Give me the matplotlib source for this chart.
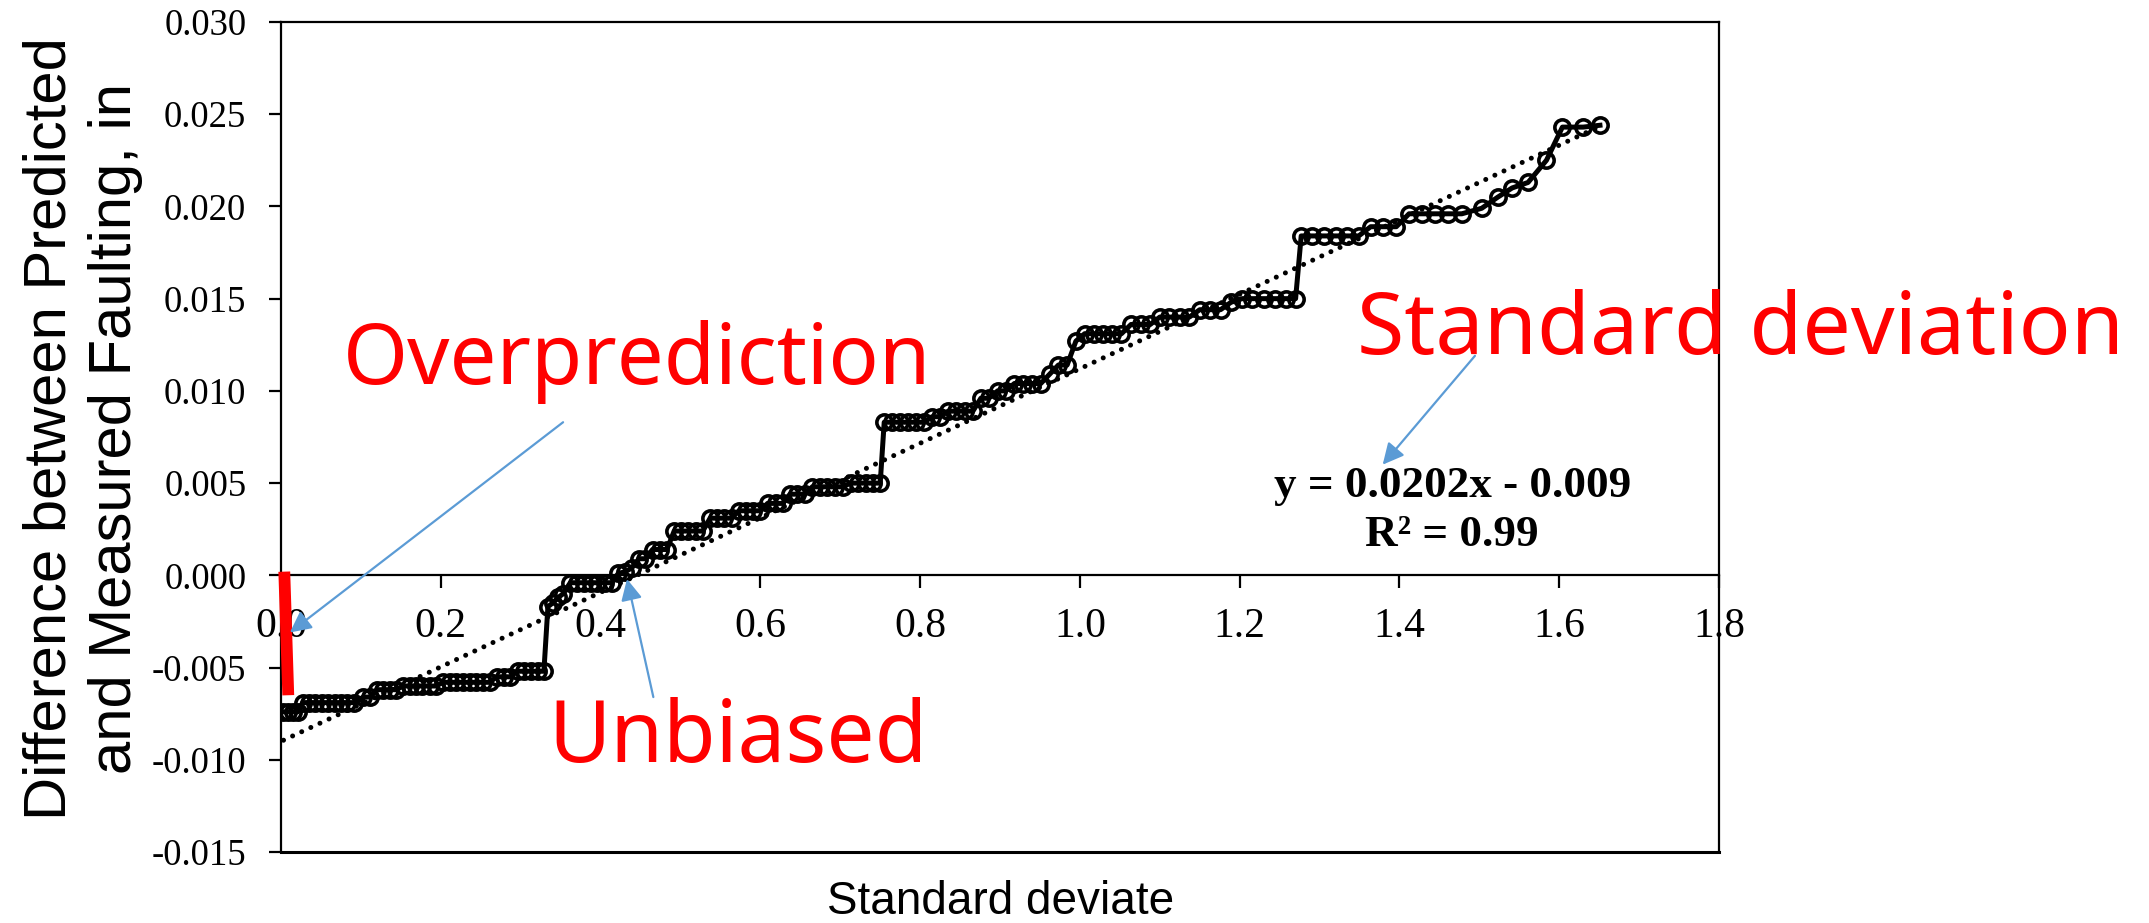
import numpy as np
import matplotlib
matplotlib.use("Agg")
from matplotlib import pyplot as plt

# standard deviate (x) vs difference between predicted and measured faulting (y)
x_dev = [0.003, 0.009, 0.015, 0.021,
         0.027, 0.035, 0.043, 0.051, 0.059, 0.067, 0.075, 0.083, 0.091,
         0.103, 0.111,
         0.120, 0.128, 0.136, 0.144,
         0.153, 0.161, 0.169, 0.177, 0.186, 0.194,
         0.203, 0.211, 0.219, 0.228, 0.236, 0.244, 0.253, 0.261,
         0.270, 0.279, 0.287,
         0.296, 0.304, 0.313, 0.321, 0.329,
         0.334, 0.340, 0.347, 0.353,
         0.362, 0.370, 0.379, 0.388, 0.396, 0.405, 0.414,
         0.422, 0.431, 0.439,
         0.448, 0.456,
         0.465, 0.474, 0.483,
         0.492, 0.501, 0.510, 0.519, 0.528,
         0.537, 0.546, 0.555, 0.564,
         0.573, 0.582, 0.591, 0.600,
         0.609, 0.619, 0.628,
         0.637, 0.646, 0.656,
         0.665, 0.675, 0.684, 0.694, 0.703,
         0.713, 0.722, 0.732, 0.741, 0.750,
         0.755, 0.765, 0.775, 0.785, 0.795, 0.805,
         0.815, 0.825,
         0.835, 0.845, 0.856, 0.866,
         0.876, 0.886,
         0.897, 0.907,
         0.918, 0.929, 0.940, 0.951,
         0.962,
         0.973, 0.984,
         0.995, 1.006, 1.017, 1.029, 1.040, 1.052,
         1.064, 1.076, 1.088,
         1.100, 1.112, 1.125, 1.137,
         1.150, 1.163, 1.176,
         1.189, 1.203, 1.216, 1.230, 1.244, 1.258, 1.270,
         1.277, 1.291, 1.305, 1.320, 1.334, 1.349,
         1.364, 1.380, 1.396,
         1.412, 1.428, 1.444, 1.461, 1.478,
         1.503, 1.523, 1.541, 1.561, 1.584, 1.604, 1.630, 1.651]
y_diff = [-0.0074, -0.0074, -0.0074, -0.0074,
          -0.0069, -0.0069, -0.0069, -0.0069, -0.0069, -0.0069, -0.0069, -0.0069, -0.0069,
          -0.0066, -0.0066,
          -0.0062, -0.0062, -0.0062, -0.0062,
          -0.0060, -0.0060, -0.0060, -0.0060, -0.0060, -0.0060,
          -0.0058, -0.0058, -0.0058, -0.0058, -0.0058, -0.0058, -0.0058, -0.0058,
          -0.0055, -0.0055, -0.0055,
          -0.0052, -0.0052, -0.0052, -0.0052, -0.0052,
          -0.0017, -0.0015, -0.0012, -0.0010,
          -0.0004, -0.0004, -0.0004, -0.0004, -0.0004, -0.0004, -0.0004,
          0.0001, 0.0002, 0.0004,
          0.0009, 0.0009,
          0.0014, 0.0014, 0.0014,
          0.0024, 0.0024, 0.0024, 0.0024, 0.0024,
          0.0031, 0.0031, 0.0031, 0.0031,
          0.0035, 0.0035, 0.0035, 0.0035,
          0.0039, 0.0039, 0.0039,
          0.0044, 0.0044, 0.0044,
          0.0048, 0.0048, 0.0048, 0.0048, 0.0048,
          0.0050, 0.0050, 0.0050, 0.0050, 0.0050,
          0.0083, 0.0083, 0.0083, 0.0083, 0.0083, 0.0083,
          0.0086, 0.0086,
          0.0089, 0.0089, 0.0089, 0.0089,
          0.0096, 0.0096,
          0.0100, 0.0100,
          0.0104, 0.0104, 0.0104, 0.0104,
          0.0109,
          0.0114, 0.0114,
          0.0127, 0.0131, 0.0131, 0.0131, 0.0131, 0.0131,
          0.0136, 0.0136, 0.0136,
          0.0140, 0.0140, 0.0140, 0.0140,
          0.0144, 0.0144, 0.0144,
          0.0148, 0.0150, 0.0150, 0.0150, 0.0150, 0.0150, 0.0150,
          0.0184, 0.0184, 0.0184, 0.0184, 0.0184, 0.0184,
          0.0189, 0.0189, 0.0189,
          0.0196, 0.0196, 0.0196, 0.0196, 0.0196,
          0.0199, 0.0205, 0.0210, 0.0213, 0.0225, 0.0243, 0.0243, 0.0244]

# linear trend shown on the chart
slope = 0.0202
intercept = -0.009
fit_text = "y = 0.0202x - 0.009\nR² = 0.99"

x_ticks = [0.0, 0.2, 0.4, 0.6, 0.8, 1.0, 1.2, 1.4, 1.6, 1.8]
x_ticklabels = ["0.0", "0.2", "0.4", "0.6", "0.8", "1.0", "1.2", "1.4", "1.6", "1.8"]
y_ticks = [0.030, 0.025, 0.020, 0.015, 0.010, 0.005, 0.000, -0.005, -0.010, -0.015]
y_ticklabels = ["0.030", "0.025", "0.020", "0.015", "0.010", "0.005", "0.000",
                "-0.005", "-0.010", "-0.015"]

arrow_blue = "#5B9BD5"

fig = plt.figure(figsize=(21.49, 9.23), dpi=100)
ax = fig.add_axes([0.1308, 0.0769, 0.6691, 0.8993])

# data series: line + open circles
ax.plot(x_dev, y_diff, color="black", lw=3.6, marker="o", ms=11,
        mfc="none", mec="black", mew=2.6, zorder=3)

# dotted trend line
xf = np.array([x_dev[0], x_dev[-1]])
ax.plot(xf, slope * xf + intercept, color="black", lw=3.6,
        linestyle=(0, (0.01, 2.0)), dash_capstyle="round", zorder=2)

ax.set_xlim(0, 1.8)
ax.set_ylim(-0.015, 0.030)

# axes: x axis crosses at y = 0, plot area framed
ax.spines["bottom"].set_position(("data", 0))
for s in ax.spines.values():
    s.set_linewidth(1.6)
ax.plot([0, 1], [0, 0], transform=ax.transAxes, color="black", lw=2.2, clip_on=False)

ax.set_xticks(x_ticks)
ax.set_xticklabels(x_ticklabels, fontfamily="Liberation Serif", fontsize=30)
ax.set_yticks(y_ticks)
ax.set_yticklabels(y_ticklabels, fontfamily="Liberation Serif", fontsize=26.5)
ax.tick_params(axis="x", direction="out", length=9, width=1.6, pad=14)
ax.tick_params(axis="y", direction="out", length=9, width=1.6, pad=16)

# axis titles
fig.text(0.0386, 0.536, "Difference between Predicted\nand Measured Faulting, in",
         rotation=90, ha="center", va="center", multialignment="center",
         fontfamily="Liberation Sans", fontsize=43, linespacing=1.25)
fig.text(0.4655, 0.010, "Standard deviate", ha="center", va="baseline",
         fontfamily="Liberation Sans", fontsize=33)

# trend equation
ax.text(1.466, 0.0035, fit_text, ha="center", va="center", multialignment="center",
        fontfamily="Liberation Serif", fontweight="bold", fontsize=32.5, linespacing=1.3)

# red marker bar near x = 0
ax.plot([0.004, 0.009], [0.0002, -0.0065], color="red", lw=8.5,
        solid_capstyle="butt", zorder=5, clip_on=False)

# red callout words
red_font = ["Noto Sans", "DejaVu Sans"]
fig.text(0.1596, 0.584, "Overprediction", color="red", fontsize=60,
         fontfamily=red_font, ha="left", va="baseline")
fig.text(0.6315, 0.6165, "Standard deviation", color="red", fontsize=62,
         fontfamily=red_font, ha="left", va="baseline")
fig.text(0.255, 0.1744, "Unbiased", color="red", fontsize=61.5,
         fontfamily=red_font, ha="left", va="baseline")

# blue arrows
arrow_kw = dict(arrowstyle="-|>", color=arrow_blue, lw=1.6, mutation_scale=32,
                shrinkA=0, shrinkB=0)
ax.annotate("", xy=(0.011, -0.0031), xytext=(0.353, 0.0083),
            arrowprops=arrow_kw, annotation_clip=False, zorder=6)
ax.annotate("", xy=(0.433, -0.0002), xytext=(0.466, -0.0066),
            arrowprops=arrow_kw, annotation_clip=False, zorder=6)
ax.annotate("", xy=(1.379, 0.0060), xytext=(1.4945, 0.0119),
            arrowprops=arrow_kw, annotation_clip=False, zorder=6)

fig.savefig("out.png", dpi=100)
